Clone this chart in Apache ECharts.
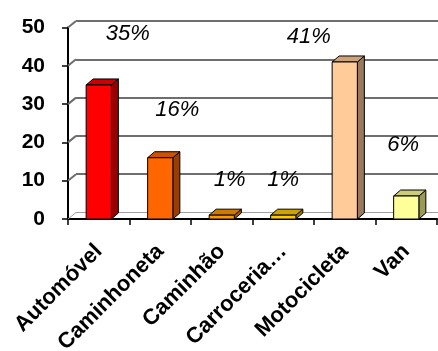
<!DOCTYPE html>
<html>
<head>
<meta charset="utf-8">
<script src="https://cdn.jsdelivr.net/npm/echarts@6/dist/echarts.min.js"></script>
<style>
  html, body { margin: 0; padding: 0; background: #fff; }
  #chart { width: 438px; height: 351px; }
</style>
</head>
<body>
<div id="chart"></div>
<script>
// Vehicle types and their share (%)
const categories = ['Automóvel', 'Caminhoneta', 'Caminhão', 'Carroceria…', 'Motocicleta', 'Van'];
const shares = [35, 16, 1, 1, 41, 6];
const yTicks = [0, 10, 20, 30, 40, 50];

const FONT = "'Liberation Sans', Arial, sans-serif";
const barColors = ['#FF0000', '#FF6600', '#FF9900', '#FFCC00', '#FFCC99', '#FFFF99'];
// where each percentage caption sits relative to the top of its bar
const captionShift = [[29, -51], [17, -48], [8, -35], [0, -35], [-36, -25], [-3, -51]];
// depth of the walls and of the bars
const WALL_DX = 8, WALL_DY = -6.5;
const BAR_DX = 7, BAR_DY = -6;

function shade(hex, k) {
  const n = parseInt(hex.slice(1), 16);
  const r = Math.round(((n >> 16) & 255) * k);
  const g = Math.round(((n >> 8) & 255) * k);
  const b = Math.round((n & 255) * k);
  return 'rgb(' + r + ',' + g + ',' + b + ')';
}

const chart = echarts.init(document.getElementById('chart'), null, { renderer: 'canvas' });

const option = {
  animation: false,
  backgroundColor: '#ffffff',
  grid: [
    { left: 68, top: 27.5, width: 369, height: 191.5, containLabel: false, outerBoundsMode: 'none' },
    { left: 68 + WALL_DX, top: 27.5 + WALL_DY, width: 369, height: 191.5, containLabel: false, outerBoundsMode: 'none' }
  ],
  xAxis: [
    {
      type: 'category', gridIndex: 0, data: categories, boundaryGap: true,
      axisLine: { show: true, lineStyle: { color: '#000', width: 2 } },
      axisTick: { show: true, length: 6, lineStyle: { color: '#000', width: 1.5 } },
      axisLabel: {
        show: true, interval: 0, rotate: 45, margin: 29,
        fontFamily: FONT, fontSize: 22, fontWeight: 'bold', color: '#000'
      },
      splitLine: { show: false }
    },
    {
      type: 'category', gridIndex: 1, data: categories, boundaryGap: true,
      axisLine: { show: true, lineStyle: { color: '#a0a0a0', width: 1 } },
      axisTick: { show: false },
      axisLabel: { show: false },
      splitLine: { show: false }
    }
  ],
  yAxis: [
    {
      type: 'value', gridIndex: 0, min: 0, max: 50, interval: 10,
      axisLine: { show: true, lineStyle: { color: '#000', width: 2 } },
      axisTick: { show: true, length: 6, lineStyle: { color: '#000', width: 1.5 } },
      axisLabel: { show: true, margin: 23, fontFamily: FONT, fontSize: 21, fontWeight: 'bold', color: '#000' },
      splitLine: { show: false }
    },
    {
      type: 'value', gridIndex: 1, min: 0, max: 50, interval: 10,
      axisLine: { show: false }, axisTick: { show: false }, axisLabel: { show: false },
      splitLine: { show: true, showMinLine: false, lineStyle: { color: '#6e6e6e', width: 2 } }
    }
  ],
  series: [
    {
      // slanted joins between the front axis ticks and the back wall lines
      type: 'custom', xAxisIndex: 0, yAxisIndex: 0, z: 1, silent: true,
      data: yTicks.map(v => [0, v]),
      renderItem: function (params, api) {
        const v = api.value(1);
        const p = api.coord([0, v]);
        const x0 = params.coordSys.x;
        return {
          type: 'line',
          shape: { x1: x0, y1: p[1], x2: x0 + WALL_DX, y2: p[1] + WALL_DY },
          style: { stroke: v === 0 ? '#a0a0a0' : '#6e6e6e', lineWidth: v === 0 ? 1 : 2 }
        };
      }
    },
    {
      // 3D-looking columns with their percentage captions
      type: 'custom', xAxisIndex: 0, yAxisIndex: 0, z: 3, silent: true,
      data: shares.map((v, i) => [i, v]),
      renderItem: function (params, api) {
        const i = api.value(0), v = api.value(1);
        const top = api.coord([i, v]);
        const base = api.coord([i, 0]);
        const w = api.size([1, 0])[0] * 0.41;
        const x0 = top[0] - w / 2, x1 = top[0] + w / 2;
        const y0 = top[1], yb = base[1];
        const c = barColors[i];
        const stroke = { stroke: '#000', lineWidth: 1, lineJoin: 'round' };
        const sh = captionShift[i];
        return {
          type: 'group',
          children: [
            {
              type: 'polygon',
              shape: { points: [[x1, y0], [x1 + BAR_DX, y0 + BAR_DY], [x1 + BAR_DX, yb + BAR_DY], [x1, yb]] },
              style: Object.assign({ fill: shade(c, 0.6) }, stroke)
            },
            {
              type: 'polygon',
              shape: { points: [[x0, y0], [x1, y0], [x1 + BAR_DX, y0 + BAR_DY], [x0 + BAR_DX, y0 + BAR_DY]] },
              style: Object.assign({ fill: shade(c, 0.8) }, stroke)
            },
            {
              type: 'rect',
              shape: { x: x0, y: y0, width: w, height: yb - y0 },
              style: Object.assign({ fill: c }, stroke)
            },
            {
              type: 'text',
              x: top[0] + sh[0], y: y0 + sh[1],
              style: {
                text: v + '%', fill: '#000',
                font: 'italic 22px ' + FONT,
                align: 'center', verticalAlign: 'middle'
              }
            }
          ]
        };
      }
    }
  ]
};

chart.setOption(option);
</script>
</body>
</html>
